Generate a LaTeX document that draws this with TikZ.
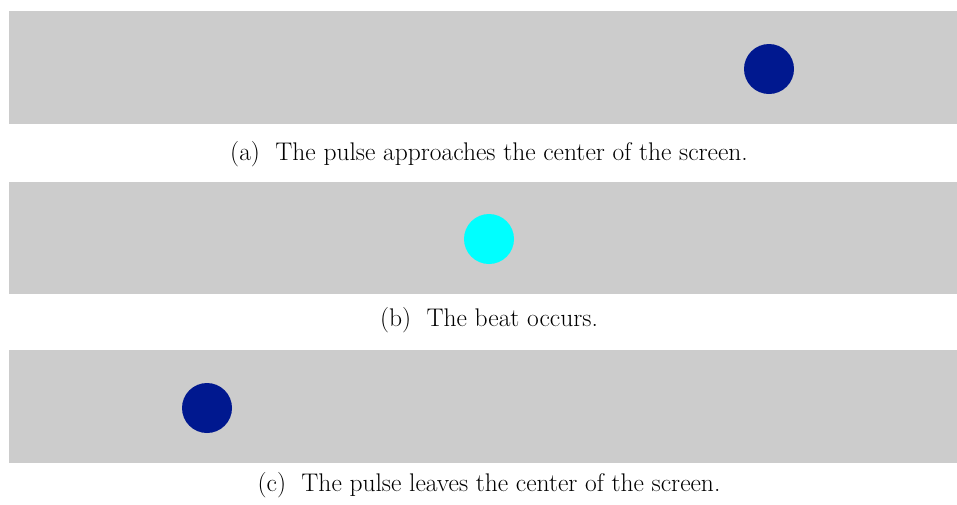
\documentclass[tikz,border=0pt]{standalone}
\definecolor{bargray}{RGB}{204,204,204}
\definecolor{pulseblue}{RGB}{0,24,143}
\definecolor{beatcyan}{RGB}{0,255,255}
\tikzset{
  bar/.style={fill=bargray, draw=none},
  pulse/.style={circle, fill=pulseblue, draw=none, minimum size=50pt, inner sep=0pt},
  beat/.style={circle, fill=beatcyan, draw=none, minimum size=50pt, inner sep=0pt},
  caption/.style={font=\fontsize{25.5}{30}\selectfont, inner sep=0pt, anchor=base}
}
\begin{document}
\begin{tikzpicture}[x=1pt,y=-1pt]
\useasboundingbox (0,0) rectangle (957,504);
\fill[white] (0,0) rectangle (957,504);
\fill[bar] (9,11) rectangle (957,124);
\fill[bar] (9,182) rectangle (957,294);
\fill[bar] (9,350) rectangle (957,463);
\node[pulse] (p1) at (769,69) {};
\node[beat] (p2) at (489,239) {};
\node[pulse] (p3) at (207,408) {};
\node[caption] (ca) at (489,160) {(a)\ \ The pulse approaches the center of the screen.};
\node[caption] (cb) at (489,326) {(b)\ \ The beat occurs.};
\node[caption] (cc) at (489,491) {(c)\ \ The pulse leaves the center of the screen.};
\end{tikzpicture}
\end{document}
